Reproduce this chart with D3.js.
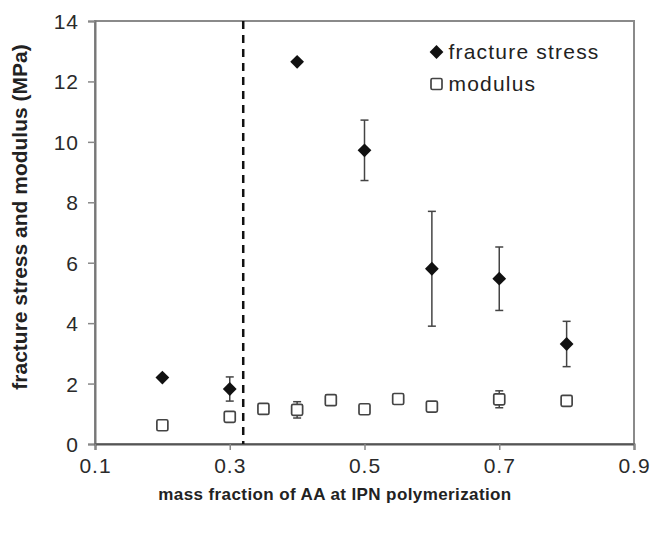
<!DOCTYPE html>
<html>
<head>
<meta charset="utf-8">
<script src="https://cdn.jsdelivr.net/npm/d3@7"></script>
<style>
  body { margin: 0; background: #fff; }
  svg { font-family: "Liberation Sans", Arial, sans-serif; }
</style>
</head>
<body>
<svg id="chart" width="659" height="537"></svg>
<script>
// fracture stress (filled diamonds)
const stressX = [0.2, 0.3, 0.4, 0.5, 0.6, 0.7, 0.8];
const stressY = [2.2, 1.82, 12.65, 9.72, 5.8, 5.47, 3.31];
const stressErr = [0, 0.4, 0, 1.0, 1.9, 1.05, 0.75];

// modulus (open squares)
const modX = [0.2, 0.3, 0.35, 0.4, 0.45, 0.5, 0.55, 0.6, 0.7, 0.8];
const modY = [0.62, 0.9, 1.16, 1.13, 1.45, 1.15, 1.49, 1.24, 1.48, 1.43];
const modErr = [0.15, 0, 0, 0.27, 0.1, 0.12, 0, 0, 0.28, 0];

const xTicks = [0.1, 0.3, 0.5, 0.7, 0.9];
const yTicks = [0, 2, 4, 6, 8, 10, 12, 14];
const threshold = 0.32; // dashed vertical line

const svg = d3.select("#chart");
const margin = { top: 21, right: 25, bottom: 93, left: 95 };
const width = 659, height = 537;
const innerW = width - margin.left - margin.right;
const innerH = height - margin.top - margin.bottom;

const x = d3.scaleLinear().domain([0.1, 0.9]).range([0, innerW]);
const y = d3.scaleLinear().domain([0, 14]).range([innerH, 0]);

const g = svg.append("g").attr("transform", `translate(${margin.left},${margin.top})`);

// plot frame
g.append("rect")
  .attr("x", 0).attr("y", 0)
  .attr("width", innerW).attr("height", innerH)
  .attr("fill", "none")
  .attr("stroke", "#8a8a8a")
  .attr("stroke-width", 2);

// y axis
const yAxis = g.append("g")
  .call(d3.axisLeft(y).tickValues(yTicks).tickSize(7).tickPadding(9).tickFormat(d3.format("d")));
yAxis.select(".domain").attr("stroke", "#777").attr("stroke-width", 2);
yAxis.selectAll(".tick line").attr("stroke", "#888").attr("stroke-width", 1.5);
yAxis.selectAll("text").attr("font-size", 21).attr("letter-spacing", 1).attr("fill", "#2a2a2a").attr("dy", "0.36em");

// x axis
const xAxis = g.append("g")
  .attr("transform", `translate(0,${innerH})`)
  .call(d3.axisBottom(x).tickValues(xTicks).tickSize(6).tickPadding(8).tickFormat(d3.format(".1f")));
xAxis.select(".domain").attr("stroke", "#555").attr("stroke-width", 2);
xAxis.selectAll(".tick line").attr("stroke", "#888").attr("stroke-width", 1.5);
xAxis.selectAll("text").attr("font-size", 21).attr("letter-spacing", 1).attr("fill", "#2a2a2a");

// dashed threshold line
g.append("line")
  .attr("x1", x(threshold)).attr("x2", x(threshold))
  .attr("y1", 0).attr("y2", innerH)
  .attr("stroke", "#111")
  .attr("stroke-width", 2.5)
  .attr("stroke-dasharray", "8,6");

// error bars
function errorBars(xs, ys, es) {
  const d = xs.map((v, i) => ({ x: v, y: ys[i], e: es[i] })).filter(p => p.e > 0);
  const eg = g.append("g").attr("stroke", "#444").attr("stroke-width", 1.5);
  eg.selectAll(".v").data(d).enter().append("line")
    .attr("x1", p => x(p.x)).attr("x2", p => x(p.x))
    .attr("y1", p => y(p.y - p.e)).attr("y2", p => y(p.y + p.e));
  eg.selectAll(".t").data(d).enter().append("line")
    .attr("x1", p => x(p.x) - 4).attr("x2", p => x(p.x) + 4)
    .attr("y1", p => y(p.y + p.e)).attr("y2", p => y(p.y + p.e));
  eg.selectAll(".b").data(d).enter().append("line")
    .attr("x1", p => x(p.x) - 4).attr("x2", p => x(p.x) + 4)
    .attr("y1", p => y(p.y - p.e)).attr("y2", p => y(p.y - p.e));
}
errorBars(stressX, stressY, stressErr);
errorBars(modX, modY, modErr);

// modulus squares
const sq = 11;
g.selectAll(".mod")
  .data(modX.map((v, i) => ({ x: v, y: modY[i] })))
  .enter().append("rect")
  .attr("x", d => x(d.x) - sq / 2)
  .attr("y", d => y(d.y) - sq / 2)
  .attr("width", sq).attr("height", sq)
  .attr("rx", 1.5)
  .attr("fill", "#fff")
  .attr("stroke", "#444")
  .attr("stroke-width", 1.7);

// fracture stress diamonds
const diamond = d3.symbol().type(d3.symbolSquare).size(95);
g.selectAll(".stress")
  .data(stressX.map((v, i) => ({ x: v, y: stressY[i] })))
  .enter().append("path")
  .attr("d", diamond)
  .attr("transform", d => `translate(${x(d.x)},${y(d.y)}) rotate(45)`)
  .attr("fill", "#111");

// legend
const legend = g.append("g").attr("transform", `translate(${x(0.5) + 72},${31})`);
legend.append("path")
  .attr("d", diamond)
  .attr("transform", "rotate(45)")
  .attr("fill", "#111");
legend.append("text")
  .attr("x", 12).attr("y", 7)
  .attr("font-size", 21).attr("letter-spacing", 1.2).attr("fill", "#222")
  .text("fracture stress");
legend.append("rect")
  .attr("x", -sq / 2).attr("y", 32 - sq / 2)
  .attr("width", sq).attr("height", sq).attr("rx", 1.5)
  .attr("fill", "#fff").attr("stroke", "#444").attr("stroke-width", 1.7);
legend.append("text")
  .attr("x", 12).attr("y", 39)
  .attr("font-size", 21).attr("letter-spacing", 1.2).attr("fill", "#222")
  .text("modulus");

// axis titles
svg.append("text")
  .attr("x", 335)
  .attr("y", 500)
  .attr("text-anchor", "middle")
  .attr("font-size", 17).attr("font-weight", "bold").attr("letter-spacing", 0.4).attr("fill", "#222")
  .text("mass fraction of AA at IPN polymerization");

svg.append("text")
  .attr("transform", `translate(27,${217}) rotate(-90)`)
  .attr("text-anchor", "middle")
  .attr("font-size", 21).attr("font-weight", "bold").attr("fill", "#222")
  .text("fracture stress and modulus (MPa)");
</script>
</body>
</html>
